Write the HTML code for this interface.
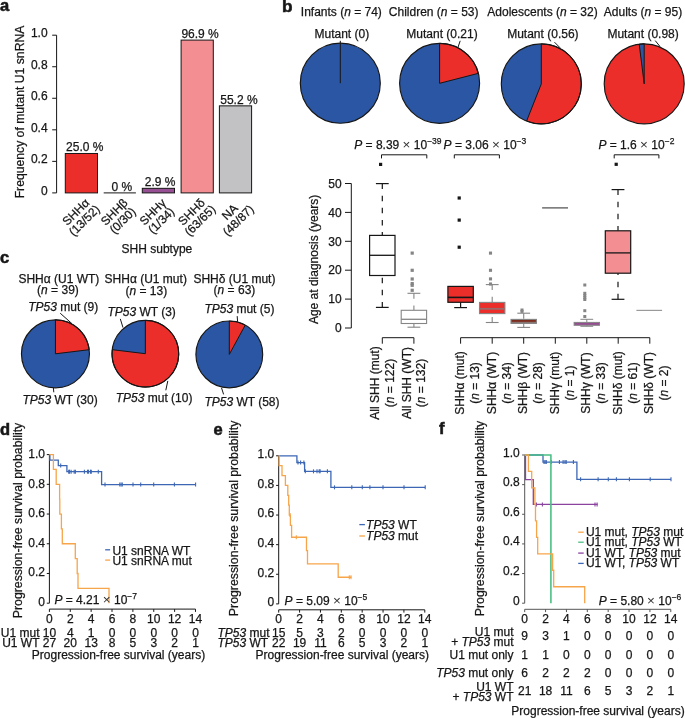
<!DOCTYPE html>
<html><head><meta charset="utf-8"><style>
html,body{margin:0;padding:0;background:#fff;}
svg{display:block;will-change:transform;}
text{stroke:#161616;stroke-width:0.25px;}
</style></head><body>
<svg width="685" height="718" viewBox="0 0 685 718" font-family="'Liberation Sans', sans-serif" font-size="12" fill="#161616">

<text x="0.00" y="11.30" font-size="16.5" font-weight="bold" style="stroke-width:0.55px" >a</text>
<line x1="56.60" y1="35.20" x2="56.60" y2="192.90" stroke="#161616" stroke-width="1" />
<line x1="52.20" y1="192.90" x2="56.60" y2="192.90" stroke="#161616" stroke-width="1" />
<text x="47.60" y="194.90" text-anchor="end" >0</text>
<line x1="52.20" y1="161.36" x2="56.60" y2="161.36" stroke="#161616" stroke-width="1" />
<text x="47.60" y="163.36" text-anchor="end" >0.2</text>
<line x1="52.20" y1="129.82" x2="56.60" y2="129.82" stroke="#161616" stroke-width="1" />
<text x="47.60" y="131.82" text-anchor="end" >0.4</text>
<line x1="52.20" y1="98.28" x2="56.60" y2="98.28" stroke="#161616" stroke-width="1" />
<text x="47.60" y="100.28" text-anchor="end" >0.6</text>
<line x1="52.20" y1="66.74" x2="56.60" y2="66.74" stroke="#161616" stroke-width="1" />
<text x="47.60" y="68.74" text-anchor="end" >0.8</text>
<line x1="52.20" y1="35.20" x2="56.60" y2="35.20" stroke="#161616" stroke-width="1" />
<text x="47.60" y="37.20" text-anchor="end" >1.0</text>
<text transform="translate(24.2,112) rotate(-90)" text-anchor="middle" font-size="12.2">Frequency of mutant U1 snRNA</text>
<rect x="65.30" y="153.48" width="32.2" height="39.42" fill="#eb2e2a" stroke="#161616" stroke-width="1"/>
<text x="84.75" y="151.18" text-anchor="middle" >25.0 %</text>
<line x1="103.70" y1="192.90" x2="135.90" y2="192.90" stroke="#161616" stroke-width="1" />
<text x="121.80" y="191.30" text-anchor="middle" >0 %</text>
<rect x="142.30" y="188.33" width="32.2" height="4.57" fill="#964f92" stroke="#161616" stroke-width="1"/>
<text x="160.20" y="186.03" text-anchor="middle" >2.9 %</text>
<rect x="181.10" y="40.09" width="32.2" height="152.81" fill="#f38f93" stroke="#161616" stroke-width="1"/>
<text x="200.10" y="37.79" text-anchor="middle" >96.9 %</text>
<rect x="219.40" y="105.85" width="32.2" height="87.05" fill="#c2c2c4" stroke="#161616" stroke-width="1"/>
<text x="238.95" y="103.55" text-anchor="middle" >55.2 %</text>
<g transform="translate(79.90,216.2) rotate(-45)"><text x="0" y="-1.8" text-anchor="middle">SHH&#945;</text><text x="0" y="10.2" text-anchor="middle">(13/52)</text></g>
<g transform="translate(118.30,216.2) rotate(-45)"><text x="0" y="-1.8" text-anchor="middle">SHH&#946;</text><text x="0" y="10.2" text-anchor="middle">(0/30)</text></g>
<g transform="translate(156.90,216.2) rotate(-45)"><text x="0" y="-1.8" text-anchor="middle">SHH&#947;</text><text x="0" y="10.2" text-anchor="middle">(1/34)</text></g>
<g transform="translate(195.70,216.2) rotate(-45)"><text x="0" y="-1.8" text-anchor="middle">SHH&#948;</text><text x="0" y="10.2" text-anchor="middle">(63/65)</text></g>
<g transform="translate(234.00,216.2) rotate(-45)"><text x="0" y="-1.8" text-anchor="middle">NA</text><text x="0" y="10.2" text-anchor="middle">(48/87)</text></g>
<text x="121.60" y="252.70" >SHH subtype</text>
<text x="282.00" y="11.60" font-size="17.2" font-weight="bold" style="stroke-width:0.55px" >b</text>
<text x="300.80" y="16.00" >Infants (<tspan font-style="italic">n</tspan> = 74)</text>
<text x="388.80" y="16.00" >Children (<tspan font-style="italic">n</tspan> = 53)</text>
<text x="487.30" y="16.00" >Adolescents (<tspan font-style="italic">n</tspan> = 32)</text>
<text x="603.80" y="16.00" >Adults (<tspan font-style="italic">n</tspan> = 95)</text>
<circle cx="340.3" cy="83.2" r="40.0" fill="#2a56a3"/>
<circle cx="340.3" cy="83.2" r="40.0" fill="none" stroke="#161616" stroke-width="1.15"/>
<line x1="340.30" y1="40.80" x2="340.30" y2="83.20" stroke="#161616" stroke-width="1" />
<circle cx="439.6" cy="83.3" r="40.0" fill="#2a56a3"/>
<path d="M439.6,83.3 L439.60,43.30 A40.0,40.0 0 0 1 478.34,73.35 Z" fill="#eb2e2a" stroke="#161616" stroke-width="1" stroke-linejoin="round"/>
<circle cx="439.6" cy="83.3" r="40.0" fill="none" stroke="#161616" stroke-width="1.15"/>
<line x1="460.20" y1="40.80" x2="458.00" y2="47.30" stroke="#161616" stroke-width="1" />
<circle cx="541.3" cy="83.9" r="40.0" fill="#2a56a3"/>
<path d="M541.3,83.9 L541.30,43.90 A40.0,40.0 0 1 1 526.58,121.09 Z" fill="#eb2e2a" stroke="#161616" stroke-width="1" stroke-linejoin="round"/>
<circle cx="541.3" cy="83.9" r="40.0" fill="none" stroke="#161616" stroke-width="1.15"/>
<line x1="554.50" y1="42.20" x2="560.20" y2="47.90" stroke="#161616" stroke-width="1" />
<circle cx="644.2" cy="83.8" r="40.0" fill="#eb2e2a"/>
<path d="M644.2,83.8 L639.19,44.12 A40.0,40.0 0 0 1 644.20,43.80 Z" fill="#2a56a3" stroke="#161616" stroke-width="1" stroke-linejoin="round"/>
<circle cx="644.2" cy="83.8" r="40.0" fill="none" stroke="#161616" stroke-width="1.15"/>
<line x1="655.20" y1="40.60" x2="660.00" y2="46.50" stroke="#161616" stroke-width="1" />
<text x="314.50" y="37.50" >Mutant (0)</text>
<text x="406.30" y="37.50" >Mutant (0.21)</text>
<text x="507.20" y="37.50" >Mutant (0.56)</text>
<text x="607.40" y="37.50" >Mutant (0.98)</text>
<line x1="351.30" y1="328.00" x2="351.30" y2="183.50" stroke="#161616" stroke-width="1" />
<line x1="345.00" y1="328.00" x2="351.30" y2="328.00" stroke="#161616" stroke-width="1" />
<text x="341.60" y="332.20" text-anchor="end" >0</text>
<line x1="345.00" y1="299.10" x2="351.30" y2="299.10" stroke="#161616" stroke-width="1" />
<text x="341.60" y="303.30" text-anchor="end" >10</text>
<line x1="345.00" y1="270.20" x2="351.30" y2="270.20" stroke="#161616" stroke-width="1" />
<text x="341.60" y="274.40" text-anchor="end" >20</text>
<line x1="345.00" y1="241.30" x2="351.30" y2="241.30" stroke="#161616" stroke-width="1" />
<text x="341.60" y="245.50" text-anchor="end" >30</text>
<line x1="345.00" y1="212.40" x2="351.30" y2="212.40" stroke="#161616" stroke-width="1" />
<text x="341.60" y="216.60" text-anchor="end" >40</text>
<line x1="345.00" y1="183.50" x2="351.30" y2="183.50" stroke="#161616" stroke-width="1" />
<text x="341.60" y="187.70" text-anchor="end" >50</text>
<text transform="translate(317.6,259.4) rotate(-90)" text-anchor="middle">Age at diagnosis (years)</text>
<text x="354.2" y="149.0"><tspan font-style="italic">P</tspan> = 8.39 <tspan font-size="13.5" style="stroke:none" fill="#333">&#215;</tspan> 10<tspan font-size="8.5" dy="-5">&#8722;39</tspan></text>
<text x="443.6" y="149.0"><tspan font-style="italic">P</tspan> = 3.06 <tspan font-size="13.5" style="stroke:none" fill="#333">&#215;</tspan> 10<tspan font-size="8.5" dy="-5">&#8722;3</tspan></text>
<text x="598.4" y="149.0"><tspan font-style="italic">P</tspan> = 1.6 <tspan font-size="13.5" style="stroke:none" fill="#333">&#215;</tspan> 10<tspan font-size="8.5" dy="-5">&#8722;2</tspan></text>
<path d="M381.5,158.4 V154.8 H426.8 V158.4" fill="none" stroke="#161616" stroke-width="1"/>
<path d="M454.3,158.4 V154.8 H499.4 V158.4" fill="none" stroke="#161616" stroke-width="1"/>
<path d="M614.2,158.4 V154.8 H658.9 V158.4" fill="none" stroke="#161616" stroke-width="1"/>
<path d="M382.3,183.6 V235.4" stroke="#161616" stroke-width="1.2" fill="none" stroke-dasharray="5.5 6.6"/>
<line x1="375.90" y1="183.60" x2="388.70" y2="183.60" stroke="#161616" stroke-width="1.2" />
<path d="M382.3,307.4 V275.5" stroke="#161616" stroke-width="1.2" fill="none" stroke-dasharray="5.5 6.6"/>
<line x1="375.90" y1="307.40" x2="388.70" y2="307.40" stroke="#161616" stroke-width="1.2" />
<rect x="369.60" y="235.4" width="25.40" height="40.10" fill="#fff" stroke="#161616" stroke-width="1.2"/>
<line x1="369.60" y1="255.30" x2="395.00" y2="255.30" stroke="#161616" stroke-width="1.3" />
<rect x="379.00" y="162.80" width="3.2" height="3.2" fill="#161616"/>
<path d="M413.9,293.3 V310.3" stroke="#858585" stroke-width="1.1" fill="none" stroke-dasharray="5.5 6.6"/>
<line x1="407.50" y1="293.30" x2="420.30" y2="293.30" stroke="#858585" stroke-width="1.1" />
<path d="M413.9,327.2 V323.5" stroke="#858585" stroke-width="1.1" fill="none" stroke-dasharray="5.5 6.6"/>
<line x1="407.50" y1="327.20" x2="420.30" y2="327.20" stroke="#858585" stroke-width="1.1" />
<rect x="401.20" y="310.3" width="25.40" height="13.20" fill="#fff" stroke="#858585" stroke-width="1.1"/>
<line x1="401.20" y1="319.30" x2="426.60" y2="319.30" stroke="#858585" stroke-width="1.3" />
<rect x="410.60" y="251.50" width="3.2" height="3.2" fill="#858585"/>
<rect x="410.60" y="268.70" width="3.2" height="3.2" fill="#858585"/>
<rect x="410.60" y="277.40" width="3.2" height="3.2" fill="#858585"/>
<rect x="410.60" y="282.00" width="3.2" height="3.2" fill="#858585"/>
<rect x="410.60" y="283.70" width="3.2" height="3.2" fill="#858585"/>
<rect x="410.60" y="288.70" width="3.2" height="3.2" fill="#858585"/>
<path d="M460.6,307.6 V302.3" stroke="#161616" stroke-width="1.2" fill="none" stroke-dasharray="5.5 6.6"/>
<line x1="454.20" y1="307.60" x2="467.00" y2="307.60" stroke="#161616" stroke-width="1.2" />
<rect x="447.90" y="286.4" width="25.40" height="15.90" fill="#eb2e2a" stroke="#161616" stroke-width="1.2"/>
<line x1="447.90" y1="297.40" x2="473.30" y2="297.40" stroke="#161616" stroke-width="1.6" />
<rect x="457.60" y="196.40" width="3.2" height="3.2" fill="#161616"/>
<rect x="457.60" y="218.50" width="3.2" height="3.2" fill="#161616"/>
<rect x="457.60" y="245.60" width="3.2" height="3.2" fill="#161616"/>
<path d="M492.2,284.6 V302.4" stroke="#858585" stroke-width="1.1" fill="none" stroke-dasharray="5.5 6.6"/>
<line x1="485.80" y1="284.60" x2="498.60" y2="284.60" stroke="#858585" stroke-width="1.1" />
<path d="M492.2,322.5 V313.6" stroke="#858585" stroke-width="1.1" fill="none" stroke-dasharray="5.5 6.6"/>
<line x1="485.80" y1="322.50" x2="498.60" y2="322.50" stroke="#858585" stroke-width="1.1" />
<rect x="479.50" y="302.4" width="25.40" height="11.20" fill="#eb2e2a" stroke="#858585" stroke-width="1.1"/>
<line x1="479.50" y1="308.80" x2="504.90" y2="308.80" stroke="#9a6a6a" stroke-width="1.8" />
<rect x="488.95" y="251.55" width="3.1" height="3.1" fill="#858585"/>
<rect x="488.95" y="268.75" width="3.1" height="3.1" fill="#858585"/>
<rect x="488.95" y="277.35" width="3.1" height="3.1" fill="#858585"/>
<rect x="488.95" y="282.45" width="3.1" height="3.1" fill="#858585"/>
<path d="M523.7,313.2 V319.4" stroke="#858585" stroke-width="1.1" fill="none" stroke-dasharray="5.5 6.6"/>
<line x1="517.30" y1="313.20" x2="530.10" y2="313.20" stroke="#858585" stroke-width="1.1" />
<path d="M523.7,327.4 V323.4" stroke="#858585" stroke-width="1.1" fill="none" stroke-dasharray="5.5 6.6"/>
<line x1="517.30" y1="327.40" x2="530.10" y2="327.40" stroke="#858585" stroke-width="1.1" />
<rect x="511.00" y="319.4" width="25.40" height="4.00" fill="#7d2d1e" stroke="#858585" stroke-width="1.1"/>
<line x1="511.00" y1="322.40" x2="536.40" y2="322.40" stroke="#8a7a78" stroke-width="1.1" />
<rect x="520.50" y="308.50" width="3.0" height="3.0" fill="#858585"/>
<rect x="520.50" y="309.90" width="3.0" height="3.0" fill="#858585"/>
<line x1="542.10" y1="207.90" x2="568.00" y2="207.90" stroke="#4a4a4a" stroke-width="1.2" />
<rect x="583.30" y="283.50" width="3.0" height="3.0" fill="#858585"/>
<rect x="583.30" y="291.80" width="3.0" height="3.0" fill="#858585"/>
<rect x="583.30" y="294.00" width="3.0" height="3.0" fill="#858585"/>
<rect x="583.30" y="296.20" width="3.0" height="3.0" fill="#858585"/>
<rect x="583.30" y="298.00" width="3.0" height="3.0" fill="#858585"/>
<rect x="583.30" y="309.20" width="3.0" height="3.0" fill="#858585"/>
<rect x="583.30" y="315.00" width="3.0" height="3.0" fill="#858585"/>
<path d="M586.8,319.3 V322.4" stroke="#858585" stroke-width="1.0" fill="none" stroke-dasharray="5.5 6.6"/>
<line x1="580.40" y1="319.30" x2="593.20" y2="319.30" stroke="#858585" stroke-width="1.0" />
<path d="M586.8,326.3 V325.3" stroke="#858585" stroke-width="1.0" fill="none" stroke-dasharray="5.5 6.6"/>
<line x1="580.40" y1="326.30" x2="593.20" y2="326.30" stroke="#858585" stroke-width="1.0" />
<rect x="574.10" y="322.4" width="25.40" height="2.90" fill="#964b91" stroke="#858585" stroke-width="1.0"/>
<line x1="574.10" y1="324.20" x2="599.50" y2="324.20" stroke="#858585" stroke-width="0.1" />
<path d="M618.0,189.6 V230.8" stroke="#161616" stroke-width="1.2" fill="none" stroke-dasharray="5.5 6.6"/>
<line x1="611.60" y1="189.60" x2="624.40" y2="189.60" stroke="#161616" stroke-width="1.2" />
<path d="M618.0,299.3 V273.2" stroke="#161616" stroke-width="1.2" fill="none" stroke-dasharray="5.5 6.6"/>
<line x1="611.60" y1="299.30" x2="624.40" y2="299.30" stroke="#161616" stroke-width="1.2" />
<rect x="605.30" y="230.8" width="25.40" height="42.40" fill="#f38f93" stroke="#161616" stroke-width="1.2"/>
<line x1="605.30" y1="252.90" x2="630.70" y2="252.90" stroke="#161616" stroke-width="1.3" />
<rect x="614.60" y="162.70" width="3.2" height="3.2" fill="#161616"/>
<line x1="636.40" y1="310.40" x2="662.10" y2="310.40" stroke="#9a9a9a" stroke-width="1.2" />
<line x1="382.30" y1="337.70" x2="413.90" y2="337.70" stroke="#161616" stroke-width="1" />
<line x1="382.30" y1="337.70" x2="382.30" y2="343.70" stroke="#161616" stroke-width="1" />
<line x1="413.90" y1="337.70" x2="413.90" y2="343.70" stroke="#161616" stroke-width="1" />
<line x1="460.60" y1="337.70" x2="649.80" y2="337.70" stroke="#161616" stroke-width="1" />
<line x1="460.60" y1="337.70" x2="460.60" y2="343.70" stroke="#161616" stroke-width="1" />
<line x1="492.20" y1="337.70" x2="492.20" y2="343.70" stroke="#161616" stroke-width="1" />
<line x1="523.70" y1="337.70" x2="523.70" y2="343.70" stroke="#161616" stroke-width="1" />
<line x1="555.30" y1="337.70" x2="555.30" y2="343.70" stroke="#161616" stroke-width="1" />
<line x1="586.80" y1="337.70" x2="586.80" y2="343.70" stroke="#161616" stroke-width="1" />
<line x1="618.20" y1="337.70" x2="618.20" y2="343.70" stroke="#161616" stroke-width="1" />
<line x1="649.80" y1="337.70" x2="649.80" y2="343.70" stroke="#161616" stroke-width="1" />
<text transform="translate(378.90,383) rotate(-90)" text-anchor="middle">All SHH (mut)</text>
<text transform="translate(393.80,383) rotate(-90)" text-anchor="middle">(<tspan font-style="italic">n</tspan> = 122)</text>
<text transform="translate(410.50,383) rotate(-90)" text-anchor="middle">All SHH (WT)</text>
<text transform="translate(425.40,383) rotate(-90)" text-anchor="middle">(<tspan font-style="italic">n</tspan> = 132)</text>
<text transform="translate(464.10,383) rotate(-90)" text-anchor="middle">SHH&#945; (mut)</text>
<text transform="translate(479.20,383) rotate(-90)" text-anchor="middle">(<tspan font-style="italic">n</tspan> = 13)</text>
<text transform="translate(495.70,383) rotate(-90)" text-anchor="middle">SHH&#945; (WT)</text>
<text transform="translate(510.80,383) rotate(-90)" text-anchor="middle">(<tspan font-style="italic">n</tspan> = 34)</text>
<text transform="translate(527.20,383) rotate(-90)" text-anchor="middle">SHH&#946; (WT)</text>
<text transform="translate(542.30,383) rotate(-90)" text-anchor="middle">(<tspan font-style="italic">n</tspan> = 28)</text>
<text transform="translate(558.80,383) rotate(-90)" text-anchor="middle">SHH&#947; (mut)</text>
<text transform="translate(573.90,383) rotate(-90)" text-anchor="middle">(<tspan font-style="italic">n</tspan> = 1)</text>
<text transform="translate(590.30,383) rotate(-90)" text-anchor="middle">SHH&#947; (WT)</text>
<text transform="translate(605.40,383) rotate(-90)" text-anchor="middle">(<tspan font-style="italic">n</tspan> = 33)</text>
<text transform="translate(621.70,383) rotate(-90)" text-anchor="middle">SHH&#948; (mut)</text>
<text transform="translate(636.80,383) rotate(-90)" text-anchor="middle">(<tspan font-style="italic">n</tspan> = 61)</text>
<text transform="translate(653.30,383) rotate(-90)" text-anchor="middle">SHH&#948; (WT)</text>
<text transform="translate(668.40,383) rotate(-90)" text-anchor="middle">(<tspan font-style="italic">n</tspan> = 2)</text>
<text x="0.00" y="262.50" font-size="16.5" font-weight="bold" style="stroke-width:0.55px" >c</text>
<circle cx="55.45" cy="353.8" r="34.0" fill="#2a56a3"/>
<path d="M55.45,353.8 L55.45,319.80 A34.0,34.0 0 0 1 89.20,349.70 Z" fill="#eb2e2a" stroke="#161616" stroke-width="1" stroke-linejoin="round"/>
<circle cx="55.45" cy="353.8" r="34.0" fill="none" stroke="#161616" stroke-width="1.15"/>
<circle cx="145.35" cy="353.7" r="33.4" fill="#2a56a3"/>
<path d="M145.35,353.7 L145.35,320.30 A33.4,33.4 0 1 1 112.19,349.67 Z" fill="#eb2e2a" stroke="#161616" stroke-width="1" stroke-linejoin="round"/>
<circle cx="145.35" cy="353.7" r="33.4" fill="none" stroke="#161616" stroke-width="1.15"/>
<circle cx="229.3" cy="354.4" r="33.4" fill="#2a56a3"/>
<path d="M229.3,354.4 L229.30,321.00 A33.4,33.4 0 0 1 245.27,325.07 Z" fill="#eb2e2a" stroke="#161616" stroke-width="1" stroke-linejoin="round"/>
<circle cx="229.3" cy="354.4" r="33.4" fill="none" stroke="#161616" stroke-width="1.15"/>
<text x="18.40" y="282.70" >SHH&#945; (U1 WT)</text>
<text x="37.10" y="294.20" >(<tspan font-style="italic">n</tspan> = 39)</text>
<text x="104.60" y="282.70" >SHH&#945; (U1 mut)</text>
<text x="125.50" y="294.70" >(<tspan font-style="italic">n</tspan> = 13)</text>
<text x="193.40" y="282.70" >SHH&#948; (U1 mut)</text>
<text x="213.60" y="294.20" >(<tspan font-style="italic">n</tspan> = 63)</text>
<text x="28.20" y="310.50" ><tspan font-style="italic">TP53</tspan> mut (9)</text>
<text x="22.50" y="403.80" ><tspan font-style="italic">TP53</tspan> WT (30)</text>
<text x="107.40" y="315.50" ><tspan font-style="italic">TP53</tspan> WT (3)</text>
<text x="115.70" y="401.70" ><tspan font-style="italic">TP53</tspan> mut (10)</text>
<text x="204.40" y="312.60" ><tspan font-style="italic">TP53</tspan> mut (5)</text>
<text x="204.40" y="405.90" ><tspan font-style="italic">TP53</tspan> WT (58)</text>
<line x1="60.20" y1="313.20" x2="72.00" y2="323.70" stroke="#161616" stroke-width="1" />
<line x1="53.40" y1="387.80" x2="53.80" y2="392.30" stroke="#161616" stroke-width="1" />
<line x1="120.30" y1="318.90" x2="123.00" y2="327.60" stroke="#161616" stroke-width="1" />
<line x1="167.80" y1="380.90" x2="165.80" y2="390.30" stroke="#161616" stroke-width="1" />
<line x1="237.20" y1="316.10" x2="237.60" y2="321.80" stroke="#161616" stroke-width="1" />
<line x1="221.50" y1="387.80" x2="223.60" y2="394.40" stroke="#161616" stroke-width="1" />
<text x="0.00" y="435.00" font-size="16.5" font-weight="bold" style="stroke-width:0.55px" >d</text>
<line x1="49.40" y1="603.20" x2="49.40" y2="454.60" stroke="#161616" stroke-width="1" />
<line x1="46.80" y1="603.20" x2="49.40" y2="603.20" stroke="#161616" stroke-width="1" />
<text x="45.00" y="606.00" text-anchor="end" >0</text>
<line x1="46.80" y1="573.48" x2="49.40" y2="573.48" stroke="#161616" stroke-width="1" />
<text x="45.00" y="576.42" text-anchor="end" >0.2</text>
<line x1="46.80" y1="543.76" x2="49.40" y2="543.76" stroke="#161616" stroke-width="1" />
<text x="45.00" y="546.84" text-anchor="end" >0.4</text>
<line x1="46.80" y1="514.04" x2="49.40" y2="514.04" stroke="#161616" stroke-width="1" />
<text x="45.00" y="517.26" text-anchor="end" >0.6</text>
<line x1="46.80" y1="484.32" x2="49.40" y2="484.32" stroke="#161616" stroke-width="1" />
<text x="45.00" y="487.68" text-anchor="end" >0.8</text>
<line x1="46.80" y1="454.60" x2="49.40" y2="454.60" stroke="#161616" stroke-width="1" />
<text x="45.00" y="458.10" text-anchor="end" >1.0</text>
<line x1="49.40" y1="609.10" x2="195.49" y2="609.10" stroke="#161616" stroke-width="1" />
<line x1="49.40" y1="609.10" x2="49.40" y2="611.90" stroke="#161616" stroke-width="1" />
<text x="49.40" y="622.90" text-anchor="middle" >0</text>
<line x1="70.27" y1="609.10" x2="70.27" y2="611.90" stroke="#161616" stroke-width="1" />
<text x="70.27" y="622.90" text-anchor="middle" >2</text>
<line x1="91.14" y1="609.10" x2="91.14" y2="611.90" stroke="#161616" stroke-width="1" />
<text x="91.14" y="622.90" text-anchor="middle" >4</text>
<line x1="112.01" y1="609.10" x2="112.01" y2="611.90" stroke="#161616" stroke-width="1" />
<text x="112.01" y="622.90" text-anchor="middle" >6</text>
<line x1="132.88" y1="609.10" x2="132.88" y2="611.90" stroke="#161616" stroke-width="1" />
<text x="132.88" y="622.90" text-anchor="middle" >8</text>
<line x1="153.75" y1="609.10" x2="153.75" y2="611.90" stroke="#161616" stroke-width="1" />
<text x="153.75" y="622.90" text-anchor="middle" >10</text>
<line x1="174.62" y1="609.10" x2="174.62" y2="611.90" stroke="#161616" stroke-width="1" />
<text x="174.62" y="622.90" text-anchor="middle" >12</text>
<line x1="195.49" y1="609.10" x2="195.49" y2="611.90" stroke="#161616" stroke-width="1" />
<text x="195.49" y="622.90" text-anchor="middle" >14</text>
<text transform="translate(22.4,520.5) rotate(-90)" text-anchor="middle" font-size="12.3">Progression-free survival probability</text>
<path d="M49.40,454.60 H49.90 V460.10 H58.30 V465.61 H66.90 V471.69 H101.60 V484.62 H195.60 V484.62" fill="none" stroke="#3d67b5" stroke-width="1.3" stroke-linejoin="miter"/>
<line x1="60.70" y1="463.61" x2="60.70" y2="467.61" stroke="#3d67b5" stroke-width="1.1" />
<line x1="68.70" y1="469.69" x2="68.70" y2="473.69" stroke="#3d67b5" stroke-width="1.1" />
<line x1="69.50" y1="469.69" x2="69.50" y2="473.69" stroke="#3d67b5" stroke-width="1.1" />
<line x1="71.10" y1="469.69" x2="71.10" y2="473.69" stroke="#3d67b5" stroke-width="1.1" />
<line x1="74.20" y1="469.69" x2="74.20" y2="473.69" stroke="#3d67b5" stroke-width="1.1" />
<line x1="75.40" y1="469.69" x2="75.40" y2="473.69" stroke="#3d67b5" stroke-width="1.1" />
<line x1="84.40" y1="469.69" x2="84.40" y2="473.69" stroke="#3d67b5" stroke-width="1.1" />
<line x1="87.50" y1="469.69" x2="87.50" y2="473.69" stroke="#3d67b5" stroke-width="1.1" />
<line x1="88.50" y1="469.69" x2="88.50" y2="473.69" stroke="#3d67b5" stroke-width="1.1" />
<line x1="90.50" y1="469.69" x2="90.50" y2="473.69" stroke="#3d67b5" stroke-width="1.1" />
<line x1="91.30" y1="469.69" x2="91.30" y2="473.69" stroke="#3d67b5" stroke-width="1.1" />
<line x1="98.30" y1="469.69" x2="98.30" y2="473.69" stroke="#3d67b5" stroke-width="1.1" />
<line x1="105.00" y1="482.62" x2="105.00" y2="486.62" stroke="#3d67b5" stroke-width="1.1" />
<line x1="119.80" y1="482.62" x2="119.80" y2="486.62" stroke="#3d67b5" stroke-width="1.1" />
<line x1="121.10" y1="482.62" x2="121.10" y2="486.62" stroke="#3d67b5" stroke-width="1.1" />
<line x1="122.30" y1="482.62" x2="122.30" y2="486.62" stroke="#3d67b5" stroke-width="1.1" />
<line x1="133.00" y1="482.62" x2="133.00" y2="486.62" stroke="#3d67b5" stroke-width="1.1" />
<line x1="140.70" y1="482.62" x2="140.70" y2="486.62" stroke="#3d67b5" stroke-width="1.1" />
<line x1="153.70" y1="482.62" x2="153.70" y2="486.62" stroke="#3d67b5" stroke-width="1.1" />
<line x1="174.40" y1="482.62" x2="174.40" y2="486.62" stroke="#3d67b5" stroke-width="1.1" />
<line x1="195.60" y1="482.62" x2="195.60" y2="486.62" stroke="#3d67b5" stroke-width="1.1" />
<path d="M49.40,454.60 H53.40 V469.46 H56.20 V484.32 H59.60 V499.18 H59.80 V514.04 H61.40 V528.90 H62.30 V543.76 H75.30 V558.62 H77.20 V573.48 H78.00 V588.34 H109.00 V603.20" fill="none" stroke="#f7a54a" stroke-width="1.3" stroke-linejoin="miter"/>
<line x1="105.20" y1="549.80" x2="110.10" y2="549.80" stroke="#3d67b5" stroke-width="1.3" />
<line x1="105.20" y1="560.10" x2="110.10" y2="560.10" stroke="#f7a54a" stroke-width="1.3" />
<text x="112.40" y="554.60" >U1 snRNA WT</text>
<text x="112.40" y="565.20" >U1 snRNA mut</text>
<text x="54.4" y="604.2"><tspan font-style="italic">P</tspan> = 4.21 <tspan font-size="13.5" style="stroke:none" fill="#333">&#215;</tspan> 10<tspan font-size="8.5" dy="-5">&#8722;7</tspan></text>
<text x="49.40" y="637.00" text-anchor="middle" >10</text>
<text x="49.40" y="646.90" text-anchor="middle" >27</text>
<text x="70.27" y="637.00" text-anchor="middle" >4</text>
<text x="70.27" y="646.90" text-anchor="middle" >20</text>
<text x="91.14" y="637.00" text-anchor="middle" >1</text>
<text x="91.14" y="646.90" text-anchor="middle" >13</text>
<text x="112.01" y="637.00" text-anchor="middle" >0</text>
<text x="112.01" y="646.90" text-anchor="middle" >8</text>
<text x="132.88" y="637.00" text-anchor="middle" >0</text>
<text x="132.88" y="646.90" text-anchor="middle" >5</text>
<text x="153.75" y="637.00" text-anchor="middle" >0</text>
<text x="153.75" y="646.90" text-anchor="middle" >3</text>
<text x="174.62" y="637.00" text-anchor="middle" >0</text>
<text x="174.62" y="646.90" text-anchor="middle" >2</text>
<text x="195.49" y="637.00" text-anchor="middle" >0</text>
<text x="195.49" y="646.90" text-anchor="middle" >1</text>
<text x="39.50" y="637.00" text-anchor="end" >U1 mut</text>
<text x="39.50" y="646.90" text-anchor="end" >U1 WT</text>
<text x="118.50" y="658.60" text-anchor="middle" >Progression-free survival (years)</text>
<text x="213.60" y="435.20" font-size="16.5" font-weight="bold" style="stroke-width:0.55px" >e</text>
<line x1="278.70" y1="603.90" x2="278.70" y2="455.80" stroke="#161616" stroke-width="1" />
<line x1="276.10" y1="603.90" x2="278.70" y2="603.90" stroke="#161616" stroke-width="1" />
<text x="274.20" y="606.30" text-anchor="end" >0</text>
<line x1="276.10" y1="574.28" x2="278.70" y2="574.28" stroke="#161616" stroke-width="1" />
<text x="274.20" y="576.68" text-anchor="end" >0.2</text>
<line x1="276.10" y1="544.66" x2="278.70" y2="544.66" stroke="#161616" stroke-width="1" />
<text x="274.20" y="547.06" text-anchor="end" >0.4</text>
<line x1="276.10" y1="515.04" x2="278.70" y2="515.04" stroke="#161616" stroke-width="1" />
<text x="274.20" y="517.44" text-anchor="end" >0.6</text>
<line x1="276.10" y1="485.42" x2="278.70" y2="485.42" stroke="#161616" stroke-width="1" />
<text x="274.20" y="487.82" text-anchor="end" >0.8</text>
<line x1="276.10" y1="455.80" x2="278.70" y2="455.80" stroke="#161616" stroke-width="1" />
<text x="274.20" y="458.20" text-anchor="end" >1.0</text>
<line x1="278.70" y1="609.80" x2="424.79" y2="609.80" stroke="#161616" stroke-width="1" />
<line x1="278.70" y1="609.80" x2="278.70" y2="612.60" stroke="#161616" stroke-width="1" />
<text x="278.70" y="622.90" text-anchor="middle" >0</text>
<line x1="299.57" y1="609.80" x2="299.57" y2="612.60" stroke="#161616" stroke-width="1" />
<text x="299.57" y="622.90" text-anchor="middle" >2</text>
<line x1="320.44" y1="609.80" x2="320.44" y2="612.60" stroke="#161616" stroke-width="1" />
<text x="320.44" y="622.90" text-anchor="middle" >4</text>
<line x1="341.31" y1="609.80" x2="341.31" y2="612.60" stroke="#161616" stroke-width="1" />
<text x="341.31" y="622.90" text-anchor="middle" >6</text>
<line x1="362.18" y1="609.80" x2="362.18" y2="612.60" stroke="#161616" stroke-width="1" />
<text x="362.18" y="622.90" text-anchor="middle" >8</text>
<line x1="383.05" y1="609.80" x2="383.05" y2="612.60" stroke="#161616" stroke-width="1" />
<text x="383.05" y="622.90" text-anchor="middle" >10</text>
<line x1="403.92" y1="609.80" x2="403.92" y2="612.60" stroke="#161616" stroke-width="1" />
<text x="403.92" y="622.90" text-anchor="middle" >12</text>
<line x1="424.79" y1="609.80" x2="424.79" y2="612.60" stroke="#161616" stroke-width="1" />
<text x="424.79" y="622.90" text-anchor="middle" >14</text>
<text transform="translate(238.2,518.4) rotate(-90)" text-anchor="middle" font-size="12.3">Progression-free survival probability</text>
<path d="M278.70,455.80 H296.90 V462.53 H304.60 V471.35 H330.90 V487.35 H425.20 V487.35" fill="none" stroke="#3d67b5" stroke-width="1.3" stroke-linejoin="miter"/>
<line x1="298.00" y1="460.53" x2="298.00" y2="464.53" stroke="#3d67b5" stroke-width="1.1" />
<line x1="300.60" y1="460.53" x2="300.60" y2="464.53" stroke="#3d67b5" stroke-width="1.1" />
<line x1="303.90" y1="460.53" x2="303.90" y2="464.53" stroke="#3d67b5" stroke-width="1.1" />
<line x1="305.30" y1="469.35" x2="305.30" y2="473.35" stroke="#3d67b5" stroke-width="1.1" />
<line x1="313.50" y1="469.35" x2="313.50" y2="473.35" stroke="#3d67b5" stroke-width="1.1" />
<line x1="317.00" y1="469.35" x2="317.00" y2="473.35" stroke="#3d67b5" stroke-width="1.1" />
<line x1="319.20" y1="469.35" x2="319.20" y2="473.35" stroke="#3d67b5" stroke-width="1.1" />
<line x1="320.10" y1="469.35" x2="320.10" y2="473.35" stroke="#3d67b5" stroke-width="1.1" />
<line x1="327.40" y1="469.35" x2="327.40" y2="473.35" stroke="#3d67b5" stroke-width="1.1" />
<line x1="334.50" y1="485.35" x2="334.50" y2="489.35" stroke="#3d67b5" stroke-width="1.1" />
<line x1="351.80" y1="485.35" x2="351.80" y2="489.35" stroke="#3d67b5" stroke-width="1.1" />
<line x1="362.30" y1="485.35" x2="362.30" y2="489.35" stroke="#3d67b5" stroke-width="1.1" />
<line x1="369.90" y1="485.35" x2="369.90" y2="489.35" stroke="#3d67b5" stroke-width="1.1" />
<line x1="383.00" y1="485.35" x2="383.00" y2="489.35" stroke="#3d67b5" stroke-width="1.1" />
<line x1="404.00" y1="485.35" x2="404.00" y2="489.35" stroke="#3d67b5" stroke-width="1.1" />
<line x1="425.20" y1="485.35" x2="425.20" y2="489.35" stroke="#3d67b5" stroke-width="1.1" />
<path d="M278.70,455.80 H279.10 V465.67 H282.00 V475.55 H285.40 V485.42 H287.80 V495.29 H288.70 V505.17 H289.30 V515.04 H290.40 V525.41 H291.60 V537.25 H306.50 V550.58 H307.50 V563.91 H338.20 V577.24 H351.50 V577.24" fill="none" stroke="#f7a54a" stroke-width="1.3" stroke-linejoin="miter"/>
<line x1="290.10" y1="513.04" x2="290.10" y2="517.04" stroke="#f7a54a" stroke-width="1.1" />
<line x1="296.30" y1="535.25" x2="296.30" y2="539.25" stroke="#f7a54a" stroke-width="1.1" />
<line x1="349.30" y1="575.24" x2="349.30" y2="579.24" stroke="#f7a54a" stroke-width="1.1" />
<line x1="351.00" y1="575.24" x2="351.00" y2="579.24" stroke="#f7a54a" stroke-width="1.1" />
<line x1="359.30" y1="524.60" x2="364.90" y2="524.60" stroke="#3d67b5" stroke-width="1.3" />
<line x1="359.30" y1="536.00" x2="364.90" y2="536.00" stroke="#f7a54a" stroke-width="1.3" />
<text x="366.10" y="528.60" ><tspan font-style="italic">TP53</tspan> WT</text>
<text x="366.10" y="539.60" ><tspan font-style="italic">TP53</tspan> mut</text>
<text x="284.6" y="604.9"><tspan font-style="italic">P</tspan> = 5.09 <tspan font-size="13.5" style="stroke:none" fill="#333">&#215;</tspan> 10<tspan font-size="8.5" dy="-5">&#8722;5</tspan></text>
<text x="278.70" y="637.00" text-anchor="middle" >15</text>
<text x="278.70" y="646.90" text-anchor="middle" >22</text>
<text x="299.57" y="637.00" text-anchor="middle" >5</text>
<text x="299.57" y="646.90" text-anchor="middle" >19</text>
<text x="320.44" y="637.00" text-anchor="middle" >3</text>
<text x="320.44" y="646.90" text-anchor="middle" >11</text>
<text x="341.31" y="637.00" text-anchor="middle" >2</text>
<text x="341.31" y="646.90" text-anchor="middle" >6</text>
<text x="362.18" y="637.00" text-anchor="middle" >0</text>
<text x="362.18" y="646.90" text-anchor="middle" >5</text>
<text x="383.05" y="637.00" text-anchor="middle" >0</text>
<text x="383.05" y="646.90" text-anchor="middle" >3</text>
<text x="403.92" y="637.00" text-anchor="middle" >0</text>
<text x="403.92" y="646.90" text-anchor="middle" >2</text>
<text x="424.79" y="637.00" text-anchor="middle" >0</text>
<text x="424.79" y="646.90" text-anchor="middle" >1</text>
<text x="217.50" y="637.00" ><tspan font-style="italic">TP53</tspan> mut</text>
<text x="217.50" y="646.90" ><tspan font-style="italic">TP53</tspan> WT</text>
<text x="342.30" y="658.80" text-anchor="middle" >Progression-free survival (years)</text>
<text x="439.00" y="434.40" font-size="16.5" font-weight="bold" style="stroke-width:0.55px" >f</text>
<line x1="524.70" y1="603.20" x2="524.70" y2="455.00" stroke="#555" stroke-width="1" />
<line x1="522.10" y1="603.20" x2="524.70" y2="603.20" stroke="#555" stroke-width="1" />
<text x="519.70" y="604.70" text-anchor="end" >0</text>
<line x1="522.10" y1="573.56" x2="524.70" y2="573.56" stroke="#555" stroke-width="1" />
<text x="519.70" y="575.06" text-anchor="end" >0.2</text>
<line x1="522.10" y1="543.92" x2="524.70" y2="543.92" stroke="#555" stroke-width="1" />
<text x="519.70" y="545.42" text-anchor="end" >0.4</text>
<line x1="522.10" y1="514.28" x2="524.70" y2="514.28" stroke="#555" stroke-width="1" />
<text x="519.70" y="515.78" text-anchor="end" >0.6</text>
<line x1="522.10" y1="484.64" x2="524.70" y2="484.64" stroke="#555" stroke-width="1" />
<text x="519.70" y="486.14" text-anchor="end" >0.8</text>
<line x1="522.10" y1="455.00" x2="524.70" y2="455.00" stroke="#555" stroke-width="1" />
<text x="519.70" y="456.50" text-anchor="end" >1.0</text>
<line x1="524.70" y1="609.30" x2="670.79" y2="609.30" stroke="#555" stroke-width="1" />
<line x1="524.70" y1="609.30" x2="524.70" y2="612.10" stroke="#555" stroke-width="1" />
<text x="524.70" y="622.90" text-anchor="middle" >0</text>
<line x1="545.57" y1="609.30" x2="545.57" y2="612.10" stroke="#555" stroke-width="1" />
<text x="545.57" y="622.90" text-anchor="middle" >2</text>
<line x1="566.44" y1="609.30" x2="566.44" y2="612.10" stroke="#555" stroke-width="1" />
<text x="566.44" y="622.90" text-anchor="middle" >4</text>
<line x1="587.31" y1="609.30" x2="587.31" y2="612.10" stroke="#555" stroke-width="1" />
<text x="587.31" y="622.90" text-anchor="middle" >6</text>
<line x1="608.18" y1="609.30" x2="608.18" y2="612.10" stroke="#555" stroke-width="1" />
<text x="608.18" y="622.90" text-anchor="middle" >8</text>
<line x1="629.05" y1="609.30" x2="629.05" y2="612.10" stroke="#555" stroke-width="1" />
<text x="629.05" y="622.90" text-anchor="middle" >10</text>
<line x1="649.92" y1="609.30" x2="649.92" y2="612.10" stroke="#555" stroke-width="1" />
<text x="649.92" y="622.90" text-anchor="middle" >12</text>
<line x1="670.79" y1="609.30" x2="670.79" y2="612.10" stroke="#555" stroke-width="1" />
<text x="670.79" y="622.90" text-anchor="middle" >14</text>
<text transform="translate(483.5,518.5) rotate(-90)" text-anchor="middle" font-size="12.3">Progression-free survival probability</text>
<path d="M524.70,455.00 H543.00 V462.06 H576.90 V479.30 H671.00 V479.30" fill="none" stroke="#3d67b5" stroke-width="1.3" stroke-linejoin="miter"/>
<line x1="544.00" y1="460.06" x2="544.00" y2="464.06" stroke="#3d67b5" stroke-width="1.1" />
<line x1="545.10" y1="460.06" x2="545.10" y2="464.06" stroke="#3d67b5" stroke-width="1.1" />
<line x1="546.30" y1="460.06" x2="546.30" y2="464.06" stroke="#3d67b5" stroke-width="1.1" />
<line x1="551.20" y1="460.06" x2="551.20" y2="464.06" stroke="#3d67b5" stroke-width="1.1" />
<line x1="559.40" y1="460.06" x2="559.40" y2="464.06" stroke="#3d67b5" stroke-width="1.1" />
<line x1="563.10" y1="460.06" x2="563.10" y2="464.06" stroke="#3d67b5" stroke-width="1.1" />
<line x1="565.00" y1="460.06" x2="565.00" y2="464.06" stroke="#3d67b5" stroke-width="1.1" />
<line x1="566.20" y1="460.06" x2="566.20" y2="464.06" stroke="#3d67b5" stroke-width="1.1" />
<line x1="573.40" y1="460.06" x2="573.40" y2="464.06" stroke="#3d67b5" stroke-width="1.1" />
<line x1="580.60" y1="477.30" x2="580.60" y2="481.30" stroke="#3d67b5" stroke-width="1.1" />
<line x1="598.10" y1="477.30" x2="598.10" y2="481.30" stroke="#3d67b5" stroke-width="1.1" />
<line x1="608.30" y1="477.30" x2="608.30" y2="481.30" stroke="#3d67b5" stroke-width="1.1" />
<line x1="616.40" y1="477.30" x2="616.40" y2="481.30" stroke="#3d67b5" stroke-width="1.1" />
<line x1="629.40" y1="477.30" x2="629.40" y2="481.30" stroke="#3d67b5" stroke-width="1.1" />
<line x1="650.20" y1="477.30" x2="650.20" y2="481.30" stroke="#3d67b5" stroke-width="1.1" />
<line x1="671.00" y1="477.30" x2="671.00" y2="481.30" stroke="#3d67b5" stroke-width="1.1" />
<path d="M524.70,455.00 H525.50 V479.70 H533.30 V504.40 H597.60 V504.40" fill="none" stroke="#8a44a0" stroke-width="1.3" stroke-linejoin="miter"/>
<line x1="536.40" y1="502.40" x2="536.40" y2="506.40" stroke="#8a44a0" stroke-width="1.1" />
<line x1="542.40" y1="502.40" x2="542.40" y2="506.40" stroke="#8a44a0" stroke-width="1.1" />
<line x1="595.00" y1="502.40" x2="595.00" y2="506.40" stroke="#8a44a0" stroke-width="1.1" />
<line x1="597.10" y1="502.40" x2="597.10" y2="506.40" stroke="#8a44a0" stroke-width="1.1" />
<path d="M524.70,455.00 H550.90 V603.20" fill="none" stroke="#4cbf85" stroke-width="1.6" stroke-linejoin="miter"/>
<path d="M524.70,455.00 H528.40 V471.47 H531.70 V487.93 H534.90 V504.40 H535.50 V520.87 H536.60 V537.33 H537.70 V553.80 H552.60 V570.27 H553.70 V586.73 H584.70 V603.20" fill="none" stroke="#f7a54a" stroke-width="1.3" stroke-linejoin="miter"/>
<line x1="578.20" y1="532.20" x2="583.70" y2="532.20" stroke="#f7a54a" stroke-width="1.3" />
<line x1="578.20" y1="542.20" x2="583.70" y2="542.20" stroke="#4cbf85" stroke-width="1.3" />
<line x1="578.20" y1="553.10" x2="583.70" y2="553.10" stroke="#8a44a0" stroke-width="1.3" />
<line x1="578.20" y1="563.40" x2="583.70" y2="563.40" stroke="#3d67b5" stroke-width="1.3" />
<text x="585.90" y="536.40" >U1 mut, <tspan font-style="italic">TP53</tspan> mut</text>
<text x="585.90" y="546.40" >U1 mut, <tspan font-style="italic">TP53</tspan> WT</text>
<text x="585.90" y="556.50" >U1 WT, <tspan font-style="italic">TP53</tspan> mut</text>
<text x="585.90" y="566.70" >U1 WT, <tspan font-style="italic">TP53</tspan> WT</text>
<text x="598.7" y="605.1"><tspan font-style="italic">P</tspan> = 5.80 <tspan font-size="13.5" style="stroke:none" fill="#333">&#215;</tspan> 10<tspan font-size="8.5" dy="-5">&#8722;6</tspan></text>
<text x="524.70" y="640.00" text-anchor="middle" >9</text>
<text x="545.57" y="640.00" text-anchor="middle" >3</text>
<text x="566.44" y="640.00" text-anchor="middle" >1</text>
<text x="587.31" y="640.00" text-anchor="middle" >0</text>
<text x="608.18" y="640.00" text-anchor="middle" >0</text>
<text x="629.05" y="640.00" text-anchor="middle" >0</text>
<text x="649.92" y="640.00" text-anchor="middle" >0</text>
<text x="670.79" y="640.00" text-anchor="middle" >0</text>
<text x="524.70" y="658.70" text-anchor="middle" >1</text>
<text x="545.57" y="658.70" text-anchor="middle" >1</text>
<text x="566.44" y="658.70" text-anchor="middle" >0</text>
<text x="587.31" y="658.70" text-anchor="middle" >0</text>
<text x="608.18" y="658.70" text-anchor="middle" >0</text>
<text x="629.05" y="658.70" text-anchor="middle" >0</text>
<text x="649.92" y="658.70" text-anchor="middle" >0</text>
<text x="670.79" y="658.70" text-anchor="middle" >0</text>
<text x="524.70" y="676.60" text-anchor="middle" >6</text>
<text x="545.57" y="676.60" text-anchor="middle" >2</text>
<text x="566.44" y="676.60" text-anchor="middle" >2</text>
<text x="587.31" y="676.60" text-anchor="middle" >2</text>
<text x="608.18" y="676.60" text-anchor="middle" >0</text>
<text x="629.05" y="676.60" text-anchor="middle" >0</text>
<text x="649.92" y="676.60" text-anchor="middle" >0</text>
<text x="670.79" y="676.60" text-anchor="middle" >0</text>
<text x="524.70" y="695.20" text-anchor="middle" >21</text>
<text x="545.57" y="695.20" text-anchor="middle" >18</text>
<text x="566.44" y="695.20" text-anchor="middle" >11</text>
<text x="587.31" y="695.20" text-anchor="middle" >6</text>
<text x="608.18" y="695.20" text-anchor="middle" >5</text>
<text x="629.05" y="695.20" text-anchor="middle" >3</text>
<text x="649.92" y="695.20" text-anchor="middle" >2</text>
<text x="670.79" y="695.20" text-anchor="middle" >1</text>
<text x="513.50" y="636.10" text-anchor="end" >U1 mut</text>
<text x="513.50" y="646.00" text-anchor="end" >+ <tspan font-style="italic">TP53</tspan> mut</text>
<text x="513.50" y="658.70" text-anchor="end" >U1 mut only</text>
<text x="513.50" y="676.60" text-anchor="end" ><tspan font-style="italic">TP53</tspan> mut only</text>
<text x="513.50" y="690.80" text-anchor="end" >U1 WT</text>
<text x="513.50" y="701.00" text-anchor="end" >+ <tspan font-style="italic">TP53</tspan> WT</text>
<text x="598.00" y="715.20" text-anchor="middle" >Progression-free survival (years)</text>
</svg>
</body></html>
